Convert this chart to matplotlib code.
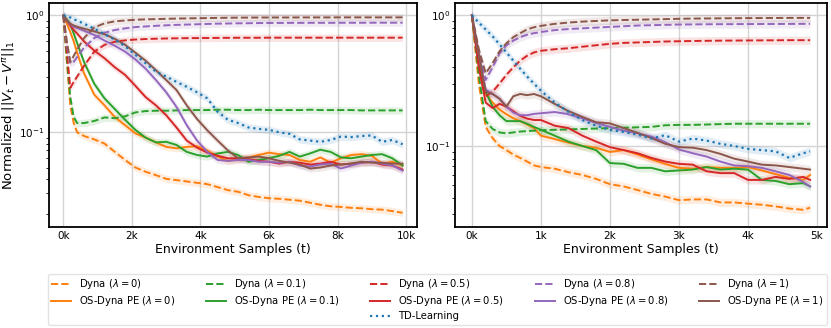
import numpy as np
import matplotlib
matplotlib.use("Agg")
import matplotlib.pyplot as plt
from matplotlib.lines import Line2D
from matplotlib.ticker import FuncFormatter, FixedLocator

#%% data (normalized error, log scale)

lambdas = ["0", "0.1", "0.5", "0.8", "1"]
colors = ["#ff7f0e", "#2ca02c", "#d62728", "#9467bd", "#8c564b"]
td_color = "#1f77b4"

# left panel: samples
steps_a = [0, 100, 200, 300, 400, 600, 900, 1200, 1500, 1800, 2100, 2400, 2700,
           3000, 3300, 3600, 3900, 4200, 4500, 4800, 5100, 5400, 5700, 6000, 6300,
           6600, 6900, 7200, 7500, 7800, 8100, 8400, 8700, 9000, 9300, 9600, 9900]

dyna_a_0 = [1.0, 0.40, 0.17, 0.12, 0.10, 0.093, 0.087, 0.080, 0.068, 0.058, 0.050, 0.046, 0.043,
            0.040, 0.039, 0.038, 0.037, 0.036, 0.034, 0.032, 0.031, 0.029, 0.028, 0.0273, 0.027,
            0.0265, 0.026, 0.025, 0.024, 0.0233, 0.023, 0.0226, 0.0224, 0.022, 0.0218, 0.0212, 0.0205]
dyna_a_01 = [1.0, 0.42, 0.20, 0.135, 0.12, 0.12, 0.125, 0.134, 0.132, 0.137, 0.148, 0.152, 0.153,
             0.153, 0.154, 0.155, 0.155, 0.155, 0.156, 0.156, 0.155, 0.155, 0.156, 0.155, 0.155,
             0.155, 0.155, 0.156, 0.155, 0.155, 0.155, 0.155, 0.154, 0.154, 0.154, 0.154, 0.154]
dyna_a_05 = [1.0, 0.48, 0.24, 0.27, 0.30, 0.37, 0.49, 0.56, 0.595, 0.612, 0.622, 0.628, 0.632,
             0.635, 0.637, 0.639, 0.640, 0.641, 0.642, 0.643, 0.644, 0.644, 0.644, 0.645, 0.645,
             0.645, 0.645, 0.645, 0.645, 0.645, 0.645, 0.645, 0.645, 0.645, 0.645, 0.645, 0.645]
dyna_a_08 = [1.0, 0.55, 0.39, 0.40, 0.44, 0.53, 0.64, 0.71, 0.75, 0.775, 0.795, 0.805, 0.815,
             0.823, 0.83, 0.835, 0.84, 0.845, 0.85, 0.853, 0.856, 0.858, 0.86, 0.862, 0.862,
             0.863, 0.863, 0.864, 0.864, 0.864, 0.865, 0.865, 0.865, 0.866, 0.866, 0.866, 0.866]
dyna_a_1 = [1.0, 0.60, 0.40, 0.45, 0.51, 0.64, 0.79, 0.855, 0.89, 0.905, 0.918, 0.925, 0.93,
            0.935, 0.94, 0.943, 0.946, 0.949, 0.952, 0.955, 0.957, 0.958, 0.959, 0.96, 0.96,
            0.96, 0.961, 0.961, 0.961, 0.961, 0.962, 0.962, 0.962, 0.962, 0.962, 0.962, 0.962]

os_a_0 = [1.0, 0.85, 0.72, 0.60, 0.48, 0.32, 0.21, 0.17, 0.135, 0.115, 0.098, 0.090, 0.082,
          0.075, 0.073, 0.075, 0.076, 0.070, 0.062, 0.057, 0.059, 0.061, 0.064, 0.067, 0.065,
          0.064, 0.058, 0.056, 0.061, 0.055, 0.060, 0.064, 0.065, 0.063, 0.054, 0.056, 0.052]
os_a_01 = [1.0, 0.92, 0.84, 0.70, 0.58, 0.40, 0.26, 0.195, 0.158, 0.128, 0.105, 0.090, 0.082,
           0.083, 0.078, 0.068, 0.064, 0.062, 0.066, 0.068, 0.064, 0.056, 0.058, 0.060, 0.063,
           0.068, 0.062, 0.066, 0.071, 0.068, 0.061, 0.060, 0.062, 0.064, 0.065, 0.060, 0.052]
os_a_05 = [1.0, 0.90, 0.82, 0.75, 0.70, 0.60, 0.50, 0.43, 0.36, 0.31, 0.25, 0.20, 0.17,
           0.14, 0.11, 0.085, 0.074, 0.067, 0.063, 0.060, 0.060, 0.059, 0.057, 0.056, 0.054,
           0.056, 0.055, 0.053, 0.054, 0.056, 0.053, 0.054, 0.055, 0.056, 0.053, 0.052, 0.048]
os_a_08 = [1.0, 0.90, 0.84, 0.80, 0.78, 0.74, 0.68, 0.61, 0.55, 0.49, 0.42, 0.35, 0.28,
           0.22, 0.165, 0.115, 0.085, 0.068, 0.058, 0.057, 0.058, 0.058, 0.056, 0.056, 0.055,
           0.056, 0.052, 0.051, 0.053, 0.054, 0.049, 0.052, 0.055, 0.056, 0.054, 0.052, 0.047]
os_a_1 = [1.0, 0.90, 0.85, 0.82, 0.80, 0.77, 0.73, 0.69, 0.63, 0.56, 0.48, 0.41, 0.34,
          0.28, 0.23, 0.17, 0.13, 0.104, 0.085, 0.070, 0.060, 0.061, 0.062, 0.060, 0.057,
          0.055, 0.053, 0.049, 0.050, 0.052, 0.053, 0.054, 0.056, 0.055, 0.055, 0.054, 0.054]
td_a = [1.0, 0.98, 0.96, 0.93, 0.90, 0.85, 0.77, 0.69, 0.62, 0.545, 0.46, 0.39, 0.33,
        0.30, 0.27, 0.245, 0.22, 0.195, 0.15, 0.128, 0.12, 0.11, 0.107, 0.105, 0.10,
        0.097, 0.087, 0.085, 0.083, 0.086, 0.092, 0.091, 0.093, 0.094, 0.083, 0.086, 0.079]

# right panel
steps_b = [0, 100, 200, 300, 400, 500, 600, 700, 800, 900, 1000, 1200, 1400, 1600, 1800,
           2000, 2200, 2400, 2600, 2800, 3000, 3200, 3400, 3600, 3800, 4000, 4200, 4400,
           4600, 4800, 4900]

dyna_b_0 = [1.0, 0.30, 0.14, 0.115, 0.10, 0.093, 0.086, 0.081, 0.076, 0.071, 0.069, 0.067, 0.063,
            0.060, 0.056, 0.051, 0.049, 0.046, 0.043, 0.041, 0.0385, 0.039, 0.039, 0.037, 0.037,
            0.0362, 0.0355, 0.0345, 0.0332, 0.0325, 0.0337]
dyna_b_01 = [1.0, 0.35, 0.155, 0.135, 0.127, 0.125, 0.127, 0.129, 0.13, 0.131, 0.132, 0.133, 0.134,
             0.135, 0.136, 0.137, 0.138, 0.139, 0.14, 0.144, 0.145, 0.145, 0.146, 0.147, 0.148,
             0.148, 0.148, 0.148, 0.148, 0.148, 0.148]
dyna_b_05 = [1.0, 0.50, 0.24, 0.26, 0.30, 0.35, 0.40, 0.45, 0.49, 0.52, 0.535, 0.55, 0.56,
             0.575, 0.59, 0.605, 0.615, 0.62, 0.625, 0.63, 0.633, 0.636, 0.638, 0.64, 0.641,
             0.642, 0.643, 0.644, 0.645, 0.645, 0.645]
dyna_b_08 = [1.0, 0.52, 0.32, 0.40, 0.51, 0.59, 0.64, 0.68, 0.71, 0.73, 0.745, 0.77, 0.785,
             0.795, 0.805, 0.815, 0.825, 0.835, 0.84, 0.845, 0.85, 0.852, 0.854, 0.855, 0.856,
             0.857, 0.858, 0.858, 0.859, 0.86, 0.86]
dyna_b_1 = [1.0, 0.55, 0.36, 0.43, 0.53, 0.61, 0.68, 0.73, 0.78, 0.81, 0.83, 0.86, 0.88,
            0.895, 0.905, 0.915, 0.92, 0.925, 0.93, 0.935, 0.94, 0.944, 0.946, 0.948, 0.95,
            0.952, 0.953, 0.954, 0.955, 0.955, 0.955]

os_b_0 = [1.0, 0.42, 0.25, 0.215, 0.19, 0.175, 0.163, 0.155, 0.146, 0.137, 0.12, 0.113, 0.106,
          0.10, 0.097, 0.09, 0.093, 0.086, 0.079, 0.073, 0.068, 0.067, 0.069, 0.068, 0.068,
          0.069, 0.065, 0.061, 0.057, 0.055, 0.060]
os_b_01 = [1.0, 0.42, 0.26, 0.20, 0.172, 0.155, 0.155, 0.155, 0.148, 0.14, 0.133, 0.12, 0.108,
           0.10, 0.093, 0.074, 0.073, 0.068, 0.068, 0.064, 0.065, 0.066, 0.069, 0.066, 0.067,
           0.066, 0.055, 0.054, 0.051, 0.052, 0.049]
os_b_05 = [1.0, 0.40, 0.215, 0.195, 0.21, 0.20, 0.185, 0.17, 0.162, 0.158, 0.158, 0.143, 0.137,
           0.12, 0.108, 0.098, 0.093, 0.088, 0.081, 0.076, 0.073, 0.072, 0.064, 0.062, 0.062,
           0.055, 0.055, 0.058, 0.056, 0.058, 0.055]
os_b_08 = [1.0, 0.50, 0.27, 0.25, 0.23, 0.20, 0.18, 0.172, 0.172, 0.176, 0.178, 0.182, 0.175,
           0.163, 0.15, 0.14, 0.131, 0.125, 0.118, 0.107, 0.094, 0.088, 0.083, 0.076, 0.071,
           0.07, 0.068, 0.064, 0.06, 0.053, 0.049]
os_b_1 = [1.0, 0.50, 0.26, 0.25, 0.23, 0.20, 0.24, 0.25, 0.245, 0.25, 0.24, 0.21, 0.185,
          0.167, 0.152, 0.149, 0.137, 0.126, 0.115, 0.104, 0.098, 0.097, 0.093, 0.087, 0.08,
          0.076, 0.072, 0.071, 0.069, 0.067, 0.066]
td_b = [1.0, 0.88, 0.78, 0.69, 0.60, 0.52, 0.45, 0.39, 0.34, 0.30, 0.265, 0.215, 0.182,
        0.158, 0.143, 0.133, 0.128, 0.122, 0.114, 0.121, 0.108, 0.114, 0.11, 0.104, 0.10,
        0.095, 0.093, 0.091, 0.081, 0.088, 0.091]

#%% figure

fig = plt.figure(figsize=(8.31, 3.28), dpi=100)
ax1 = fig.add_axes([0.0586, 0.308, 0.4432, 0.682])
ax2 = fig.add_axes([0.5475, 0.308, 0.4477, 0.682])

band = 0.93  # width of the shaded spread around each curve


def draw(ax, x, dyna, os_pe, td):
    x = np.array(x)
    for d, o, c in zip(dyna, os_pe, colors):
        d = np.array(d)
        o = np.array(o)
        ax.fill_between(x, d * band, d / band, color=c, alpha=0.13, lw=0)
        ax.plot(x, d, color=c, ls="--", lw=1.4)
        ax.fill_between(x, o * band, o / band, color=c, alpha=0.13, lw=0)
        ax.plot(x, o, color=c, ls="-", lw=1.4)
    td = np.array(td)
    ax.fill_between(x, td * band, td / band, color=td_color, alpha=0.13, lw=0)
    ax.plot(x, td, color=td_color, ls=":", lw=1.6)


draw(ax1, steps_a,
     [dyna_a_0, dyna_a_01, dyna_a_05, dyna_a_08, dyna_a_1],
     [os_a_0, os_a_01, os_a_05, os_a_08, os_a_1], td_a)
draw(ax2, steps_b,
     [dyna_b_0, dyna_b_01, dyna_b_05, dyna_b_08, dyna_b_1],
     [os_b_0, os_b_01, os_b_05, os_b_08, os_b_1], td_b)

kfmt = FuncFormatter(lambda v, p: f"{v / 1000:.0f}k")
for ax, xt, xl, yl in [(ax1, [0, 2000, 4000, 6000, 8000, 10000], (-430, 10320), (0.0155, 1.27)),
                       (ax2, [0, 1000, 2000, 3000, 4000, 5000], (-245, 5145), (0.024, 1.236))]:
    ax.set_yscale("log")
    ax.set_xlim(*xl)
    ax.set_ylim(*yl)
    ax.xaxis.set_major_locator(FixedLocator(xt))
    ax.xaxis.set_major_formatter(kfmt)
    ax.grid(True, which="major", color="#d4d4d4", lw=1.0)
    ax.set_axisbelow(True)
    ax.tick_params(which="major", length=0, labelsize=7.5, pad=3)
    ax.tick_params(which="minor", length=2, width=0.6)
    ax.tick_params(axis="x", which="minor", length=0)
    for s in ax.spines.values():
        s.set_color("black")
        s.set_linewidth(1.3)
    ax.set_xlabel("Environment Samples (t)", fontsize=9, labelpad=1)

ax1.set_ylabel(r"Normalized $||V_t - V^{\pi}||_1$", fontsize=9.5, labelpad=2)

#%% legend: 5 columns, TD-Learning under the middle column
handles, labels = [], []
blank = Line2D([], [], ls="none")
for i, (lam, c) in enumerate(zip(lambdas, colors)):
    handles.append(Line2D([], [], color=c, ls="--", lw=1.4))
    labels.append(r"Dyna ($\lambda = %s$)" % lam)
    handles.append(Line2D([], [], color=c, ls="-", lw=1.4))
    labels.append(r"OS-Dyna PE ($\lambda = %s$)" % lam)
    if i == 2:
        handles.append(Line2D([], [], color=td_color, ls=":", lw=1.6))
        labels.append("TD-Learning")
    else:
        handles.append(blank)
        labels.append("")

fig.legend(handles, labels, ncol=5, mode="expand", loc="upper left",
           bbox_to_anchor=(0.0574, 0.0113, 0.9374, 0.1543), borderaxespad=0,
           fontsize=7.2, frameon=True, edgecolor="#dddddd", fancybox=True,
           handlelength=2.0, columnspacing=1.0, labelspacing=0.3, borderpad=0.35)

plt.savefig("out.png", dpi=100)
